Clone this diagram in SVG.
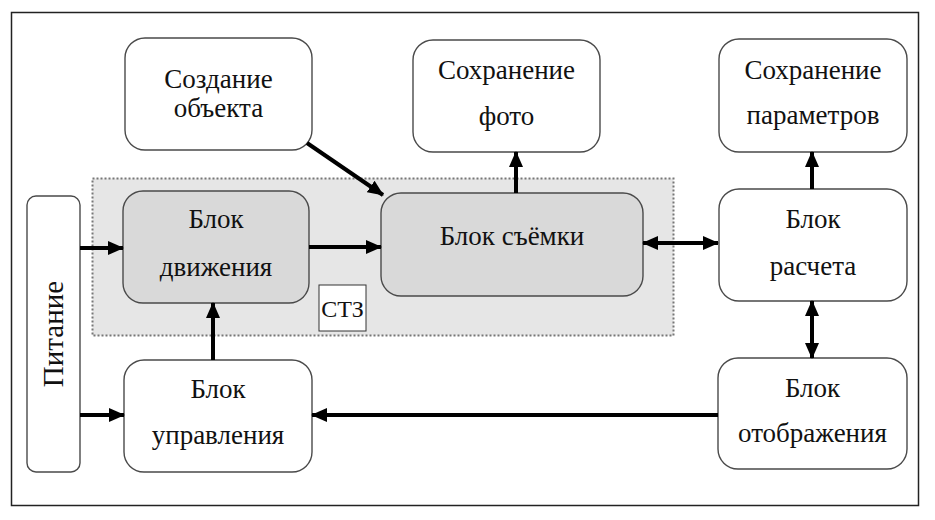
<svg xmlns="http://www.w3.org/2000/svg" width="935" height="520" viewBox="0 0 935 520">
<style>
.box{fill:#ffffff;stroke:#4a4a4a;stroke-width:1.4}
.gbox{fill:#d9d9d9;stroke:#4a4a4a;stroke-width:1.4}
.t{font-family:'Liberation Serif','DejaVu Serif','Times New Roman',serif;font-size:27px;fill:#111;text-anchor:middle}
.c{stroke:#000;stroke-width:4;fill:none}
</style>
<defs>
<marker id="ah" markerUnits="userSpaceOnUse" markerWidth="16" markerHeight="16" viewBox="0 0 16 16" refX="15" refY="8" orient="auto">
<path d="M0,1 L16,8 L0,15 Z" fill="#000"/>
</marker>
<marker id="as" markerUnits="userSpaceOnUse" markerWidth="16" markerHeight="16" viewBox="0 0 16 16" refX="1" refY="8" orient="auto">
<path d="M16,1 L0,8 L16,15 Z" fill="#000"/>
</marker>
</defs>
<rect x="0" y="0" width="935" height="520" fill="#fff"/>
<rect x="11.5" y="12.5" width="907" height="493" fill="#fff" stroke="#222" stroke-width="1.5"/>
<g id="stz-region">
<rect x="92.5" y="178.5" width="581" height="157" fill="#e6e6e6" stroke="#777" stroke-width="2" stroke-dasharray="2,2"/>
</g>
<g id="node-sozdanie">
<rect class="box" x="125" y="38" width="187" height="112" rx="20"/>
<text class="t" x="218.5" y="88">Создание</text>
<text class="t" x="218.5" y="117">объекта</text>
</g>
<g id="node-foto">
<rect class="box" x="413" y="40" width="187" height="112" rx="20"/>
<text class="t" x="506.5" y="79">Сохранение</text>
<text class="t" x="506.5" y="125">фото</text>
</g>
<g id="node-param">
<rect class="box" x="719" y="39" width="188" height="113" rx="20"/>
<text class="t" x="813" y="79">Сохранение</text>
<text class="t" x="813" y="124">параметров</text>
</g>
<g id="node-dvizh">
<rect class="gbox" x="123" y="191" width="186" height="112" rx="20"/>
<text class="t" x="216" y="228">Блок</text>
<text class="t" x="216" y="276">движения</text>
</g>
<g id="node-semki">
<rect class="gbox" x="381" y="193" width="262" height="103" rx="20"/>
<text class="t" x="512" y="245">Блок съёмки</text>
</g>
<g id="node-raschet">
<rect class="box" x="719" y="189" width="188" height="112" rx="20"/>
<text class="t" x="813" y="228">Блок</text>
<text class="t" x="813" y="275">расчета</text>
</g>
<g id="node-pitanie">
<rect class="box" x="27" y="196" width="53" height="276" rx="9"/>
<text class="t" transform="translate(63,334) rotate(-90)" style="font-size:29px">Питание</text>
</g>
<g id="node-stz">
<rect x="319" y="285" width="47" height="46" fill="#fff" stroke="#333" stroke-width="1"/>
<text class="t" x="342.5" y="317" style="font-size:24px">СТЗ</text>
</g>
<g id="node-upr">
<rect class="box" x="124" y="360" width="188" height="112" rx="20"/>
<text class="t" x="218" y="398">Блок</text>
<text class="t" x="218" y="444">управления</text>
</g>
<g id="node-otobr">
<rect class="box" x="718" y="358" width="189" height="111" rx="20"/>
<text class="t" x="812.5" y="397">Блок</text>
<text class="t" x="812.5" y="442">отображения</text>
</g>
<g id="connectors">
<line class="c" x1="80" y1="248" x2="123" y2="248" marker-end="url(#ah)"/>
<line class="c" x1="309" y1="247" x2="381" y2="247" marker-end="url(#ah)"/>
<line class="c" x1="307" y1="143" x2="383" y2="195" marker-end="url(#ah)"/>
<line class="c" x1="516" y1="193" x2="516" y2="152" marker-end="url(#ah)"/>
<line class="c" x1="643" y1="243" x2="718" y2="243" marker-start="url(#as)" marker-end="url(#ah)"/>
<line class="c" x1="812" y1="189" x2="812" y2="152" marker-end="url(#ah)"/>
<line class="c" x1="812" y1="301" x2="812" y2="358" marker-start="url(#as)" marker-end="url(#ah)"/>
<line class="c" x1="213" y1="360" x2="213" y2="303" marker-end="url(#ah)"/>
<line class="c" x1="80" y1="415" x2="124" y2="415" marker-end="url(#ah)"/>
<line class="c" x1="718" y1="415" x2="312" y2="415" marker-end="url(#ah)"/>
</g>
</svg>
